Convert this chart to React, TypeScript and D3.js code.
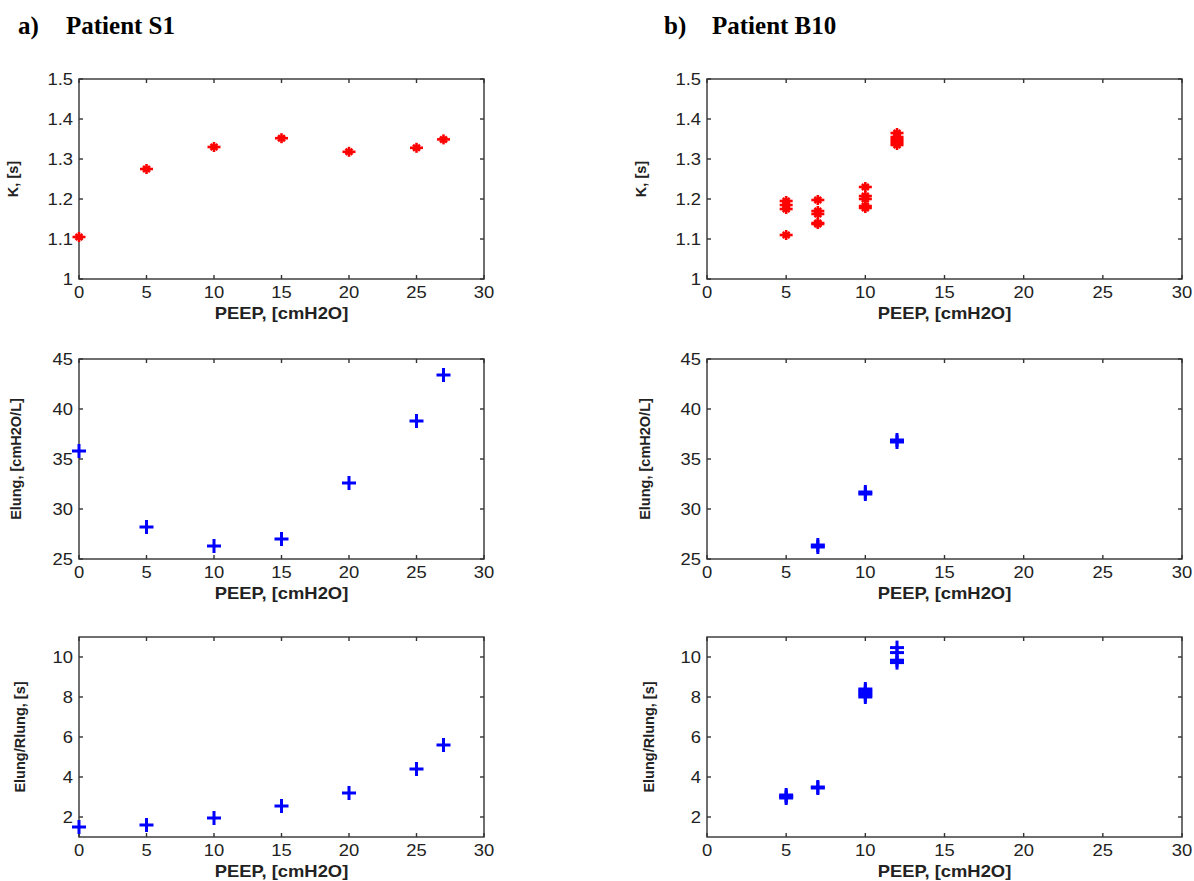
import React from 'react';
import * as d3 from 'd3';

// Patient S1
const peepS1 = [0, 5, 10, 15, 20, 25, 27];
const kS1 = [1.105, 1.275, 1.33, 1.352, 1.318, 1.328, 1.349];
const elungS1 = [35.8, 28.2, 26.3, 27.0, 32.6, 38.8, 43.4];
const ratioS1 = [1.5, 1.6, 1.95, 2.55, 3.2, 4.4, 5.6];

// Patient B10 (repeated measurements per PEEP level)
const peepB10K = [5, 5, 5, 5, 7, 7, 7, 7, 7, 10, 10, 10, 10, 10, 12, 12, 12, 12, 12, 12];
const kB10 = [1.195, 1.185, 1.175, 1.11, 1.1975, 1.17, 1.1625, 1.14, 1.1375, 1.23, 1.2075, 1.2, 1.1825, 1.1775, 1.365, 1.355, 1.35, 1.345, 1.34, 1.335];
const peepB10E = [7, 7, 10, 10, 12, 12];
const elungB10 = [26.2, 26.4, 31.5, 31.7, 36.7, 36.9];
const peepB10R = [5, 5, 5, 7, 7, 10, 10, 10, 10, 10, 12, 12, 12, 12];
const ratioB10 = [2.95, 3.02, 3.1, 3.45, 3.5, 8.0, 8.1, 8.2, 8.3, 8.4, 9.72, 9.84, 10.22, 10.47];

const xTicks = [0, 5, 10, 15, 20, 25, 30];
const kTicks = [1, 1.1, 1.2, 1.3, 1.4, 1.5];
const elungTicks = [25, 30, 35, 40, 45];
const ratioTicks = [2, 4, 6, 8, 10];

const xLabel = 'PEEP, [cmH2O]';
const rowLabels = ['K, [s]', 'Elung, [cmH2O/L]', 'Elung/Rlung, [s]'];
const titles = [['a)', 'Patient S1'], ['b)', 'Patient B10']];

const cols = [
  { x0: 79, x1: 484 },
  { x0: 707, x1: 1182 },
];
const rows = [
  { y0: 79, y1: 279, domain: [1, 1.5], ticks: kTicks, fmt: (d: number) => d3.format('.1f')(d).replace(/\.0$/, '') },
  { y0: 359, y1: 559, domain: [25, 45], ticks: elungTicks, fmt: (d: number) => String(d) },
  { y0: 637, y1: 837, domain: [1, 11], ticks: ratioTicks, fmt: (d: number) => String(d) },
];

const series = [
  [
    { x: peepS1, y: kS1, color: '#ff0000', star: true },
    { x: peepS1, y: elungS1, color: '#0000ff', star: false },
    { x: peepS1, y: ratioS1, color: '#0000ff', star: false },
  ],
  [
    { x: peepB10K, y: kB10, color: '#ff0000', star: true },
    { x: peepB10E, y: elungB10, color: '#0000ff', star: false },
    { x: peepB10R, y: ratioB10, color: '#0000ff', star: false },
  ],
];

const yLabelX = [[18, 21, 25], [646, 650, 654]];
const sans = 'Liberation Sans, Arial, sans-serif';
const stretch = 1.15;

function Marker({ cx, cy, color, star }: { cx: number; cy: number; color: string; star: boolean }) {
  if (star) {
    return (
      <g stroke={color} strokeWidth={2.6}>
        <line x1={cx - 6.5} y1={cy} x2={cx + 6.5} y2={cy} />
        <line x1={cx} y1={cy - 5} x2={cx} y2={cy + 5} />
        <line x1={cx - 3.5} y1={cy - 3} x2={cx + 3.5} y2={cy + 3} />
        <line x1={cx - 3.5} y1={cy + 3} x2={cx + 3.5} y2={cy - 3} />
      </g>
    );
  }
  return (
    <g stroke={color} strokeWidth={3}>
      <line x1={cx - 7} y1={cy} x2={cx + 7} y2={cy} />
      <line x1={cx} y1={cy - 7} x2={cx} y2={cy + 7} />
    </g>
  );
}

function Panel({ col, row, ci, ri }: any) {
  const x = d3.scaleLinear().domain([0, 30]).range([col.x0, col.x1]);
  const y = d3.scaleLinear().domain(row.domain).range([row.y1, row.y0]);
  const s = series[ci][ri];
  const axis = '#333';
  const tickLen = 4;
  return (
    <g>
      <rect x={col.x0} y={row.y0} width={col.x1 - col.x0} height={row.y1 - row.y0}
        fill="white" stroke={axis} strokeWidth={1.4} />
      {xTicks.map(t => (
        <g key={'x' + t}>
          <line x1={x(t)} x2={x(t)} y1={row.y1} y2={row.y1 - tickLen} stroke={axis} strokeWidth={1.4} />
          <line x1={x(t)} x2={x(t)} y1={row.y0} y2={row.y0 + tickLen} stroke={axis} strokeWidth={1.4} />
          <text transform={`translate(${x(t)},${row.y1 + 19}) scale(${stretch},1)`} textAnchor="middle"
            fontSize={16} fill="#222" fontFamily={sans}>{t}</text>
        </g>
      ))}
      {row.ticks.map((t: number) => (
        <g key={'y' + t}>
          <line x1={col.x0} x2={col.x0 + tickLen} y1={y(t)} y2={y(t)} stroke={axis} strokeWidth={1.4} />
          <line x1={col.x1} x2={col.x1 - tickLen} y1={y(t)} y2={y(t)} stroke={axis} strokeWidth={1.4} />
          <text transform={`translate(${col.x0 - 6},${y(t) + 5.5}) scale(${stretch},1)`} textAnchor="end"
            fontSize={16} fill="#222" fontFamily={sans}>{row.fmt(t)}</text>
        </g>
      ))}
      {s.x.map((xv: number, i: number) => (
        <Marker key={i} cx={x(xv)} cy={y(s.y[i])} color={s.color} star={s.star} />
      ))}
      <text transform={`translate(${(col.x0 + col.x1) / 2},${row.y1 + 40}) scale(${stretch},1)`}
        textAnchor="middle" fontSize={16} fontWeight="bold" fill="#222" fontFamily={sans}>{xLabel}</text>
      <text transform={`translate(${yLabelX[ci][ri]},${(row.y0 + row.y1) / 2}) rotate(-90)`} textAnchor="middle"
        fontSize={14.5} fontWeight="bold" fill="#222" fontFamily={sans}>
        {rowLabels[ri]}
      </text>
    </g>
  );
}

export default function App() {
  return (
    <svg width={1194} height={881} style={{ position: 'absolute', left: 0, top: 0, background: 'white' }}>
      <rect width={1194} height={881} fill="white" />
      {titles.map((t, ci) => (
        <g key={ci} fontFamily="Liberation Serif, Times New Roman, serif" fontWeight="bold" fontSize={25} fill="#000">
          <text x={ci === 0 ? 18 : 664} y={34}>{t[0]}</text>
          <text x={ci === 0 ? 66 : 712} y={34}>{t[1]}</text>
        </g>
      ))}
      {cols.map((col, ci) => rows.map((row, ri) => (
        <Panel key={ci + '-' + ri} col={col} row={row} ci={ci} ri={ri} />
      )))}
    </svg>
  );
}
